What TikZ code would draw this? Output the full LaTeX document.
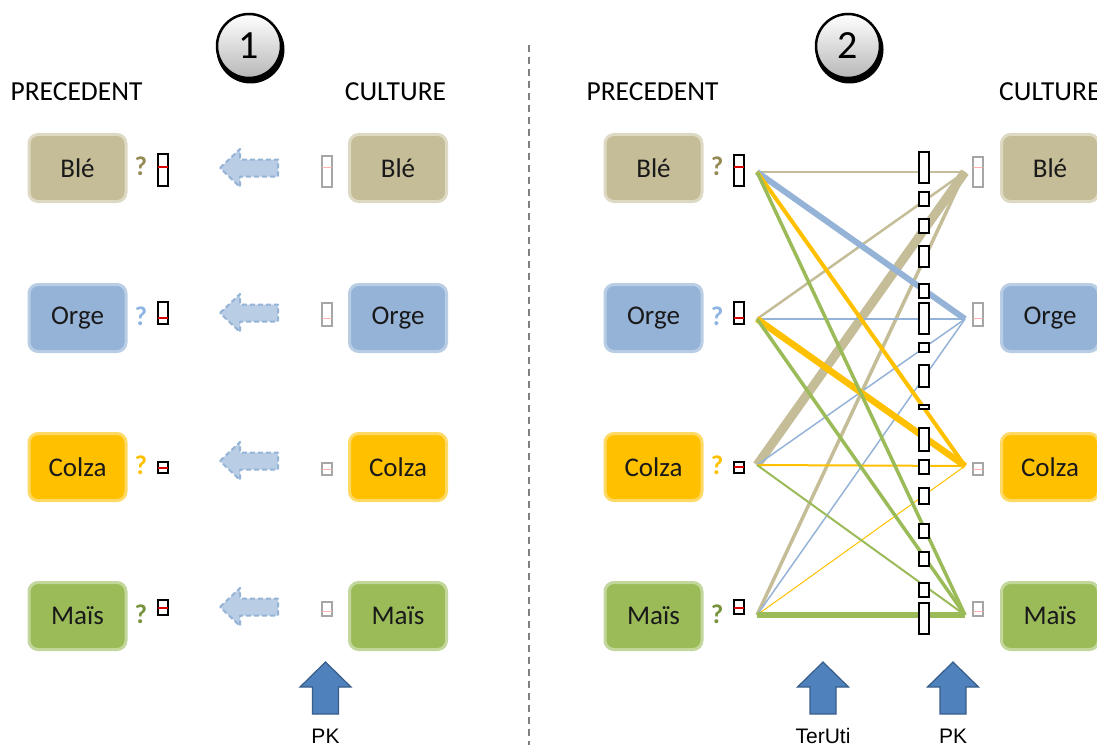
\documentclass[tikz,border=0pt]{standalone}
\usepackage{fontspec}
\setmainfont{Carlito}
\newfontfamily\arialf{Liberation Sans}
\definecolor{ble}{HTML}{C4BD97}\definecolor{bleb}{HTML}{DDD9C3}\definecolor{bleq}{HTML}{948A54}
\definecolor{orge}{HTML}{95B3D7}\definecolor{orgeb}{HTML}{B9CDE5}\definecolor{orgeq}{HTML}{8EB4E3}
\definecolor{colza}{HTML}{FFC000}\definecolor{colzab}{HTML}{FFD966}\definecolor{colzaq}{HTML}{FFC000}
\definecolor{mais}{HTML}{9BBB59}\definecolor{maisb}{HTML}{C3D69B}\definecolor{maisq}{HTML}{77933C}
\definecolor{upfill}{HTML}{4F81BD}\definecolor{upline}{HTML}{385D8A}
\definecolor{dashfill}{HTML}{B9CDE5}\definecolor{dashline}{HTML}{95B3D7}
\tikzset{
  cropbox/.style={rounded corners=9pt, line width=3pt, minimum width=97pt, minimum height=67pt,
    font=\fontsize{27}{30}\selectfont, inner sep=0pt, text=black!90},
  header/.style={font=\fontsize{27.5}{30}\selectfont, inner sep=0pt, text=black},
  qmark/.style={font=\bfseries\fontsize{27}{30}\selectfont, inner sep=0pt},
  blackbar/.style={draw=black, line width=1.6pt, fill=white},
  greybar/.style={draw=black!35, line width=1.6pt, fill=white},
  redtick/.style={draw=red!85!black, line width=1.2pt},
  pinktick/.style={draw=red!30, line width=1pt},
  leftarrow/.style={draw=dashline, fill=dashfill, line width=2pt, dash pattern=on 5pt off 3pt, line join=round},
  uparrow/.style={draw=upline, fill=upfill, line width=1.2pt},
  numcircle/.style={circle, draw=black, line width=2.5pt, minimum size=64pt, top color=white, bottom color=black!28,
    font=\fontsize{40}{44}\selectfont, inner sep=0pt},
  flow/.style={line cap=butt},
  arlabel/.style={font=\arialf\fontsize{21}{24}\selectfont, inner sep=0pt}
}
\begin{document}
\begin{tikzpicture}[x=1pt,y=-1pt]
\useasboundingbox (0,0) rectangle (1097,749);
% divider
\draw[black!50, line width=1.3pt, dash pattern=on 7pt off 5pt] (529,45) -- (529,745);
% numbered circles
\fill[black] (250.5,49.5) circle (34);
\node[numcircle] (n1) at (249,46) {1};
\fill[black] (849.5,49.5) circle (34);
\node[numcircle] (n2) at (848,46) {2};
% headers
\node[header] (h1) at (76.5,92) {PRECEDENT};
\node[header] (h2) at (395.5,92) {CULTURE};
\node[header] (h3) at (652.5,92) {PRECEDENT};
\node[header, anchor=west] (h4) at (999,92) {CULTURE};
% ---------- boxes, question marks, dashed arrows ----------
\foreach \nm/\lab/\y/\ay in {ble/Blé/168/168, orge/Orge/318/313, colza/Colza/467/461, mais/Maïs/616/607}{
  \node[cropbox, fill=\nm, draw=\nm b] (L\nm) at (77.5,\y) {\lab};
  \node[cropbox, fill=\nm, draw=\nm b] (R\nm) at (398,\y) {\lab};
  \node[cropbox, fill=\nm, draw=\nm b] (P\nm) at (653.5,\y) {\lab};
  \node[cropbox, fill=\nm, draw=\nm b] (C\nm) at (1050,\y) {\lab};
  \node[qmark, text=\nm q] (LQ\nm) at (141,\y-2) {?};
  \node[qmark, text=\nm q] (PQ\nm) at (717,\y-2) {?};
  \draw[leftarrow, shift={(0,\ay)}] (220,0) -- (240,-19) -- (240,-8.5) -- (278,-8.5) -- (278,8.5) -- (240,8.5) -- (240,19) -- cycle;
}
% small bars panel 1
\draw[blackbar] (158,154) rectangle (168,186); \draw[redtick] (158,167) -- (168,167);
\draw[blackbar] (158,302) rectangle (168,324); \draw[redtick] (158,318) -- (168,318);
\draw[blackbar] (158,462) rectangle (168,473); \draw[redtick] (158,468) -- (168,468);
\draw[blackbar] (158,600) rectangle (168,615); \draw[redtick] (158,608) -- (168,608);
\draw[greybar] (322,156) rectangle (332,187); \draw[pinktick] (322,167) -- (332,167);
\draw[greybar] (322,303) rectangle (332,326); \draw[pinktick] (322,318) -- (332,318);
\draw[greybar] (322,463) rectangle (332,475); \draw[pinktick] (322,469) -- (332,469);
\draw[greybar] (322,602) rectangle (332,616); \draw[pinktick] (322,611) -- (332,611);
% up arrows
\draw[uparrow, shift={(325.5,0)}] (0,662) -- (25.5,687) -- (13,687) -- (13,714) -- (-13,714) -- (-13,687) -- (-25.5,687) -- cycle;
\node[arlabel] (pk1) at (325.5,736) {PK};
\draw[uparrow, shift={(823,0)}] (0,662) -- (25.5,687) -- (13,687) -- (13,714) -- (-13,714) -- (-13,687) -- (-25.5,687) -- cycle;
\node[arlabel] (ter) at (823,736) {TerUti};
\draw[uparrow, shift={(953,0)}] (0,662) -- (25.5,687) -- (13,687) -- (13,714) -- (-13,714) -- (-13,687) -- (-25.5,687) -- cycle;
\node[arlabel] (pk2) at (953,736) {PK};
% ---------- panel 2 flows ----------
\coordinate (p1) at (757,172); \coordinate (p2) at (757,319); \coordinate (p3) at (757,465); \coordinate (p4) at (757,615);
\coordinate (c1) at (965,172); \coordinate (c2) at (965,319); \coordinate (c3) at (965,466); \coordinate (c4) at (965,615);
\draw[flow, ble, line width=1.8pt] (p1) -- (c1);
\draw[flow, ble, line width=2.5pt] (p2) -- (c1);
\draw[flow, ble, line width=9pt] (p3) -- (c1);
\draw[flow, ble, line width=3.5pt] (p4) -- (c1);
\draw[flow, orge, line width=6pt] (p1) -- (c2);
\draw[flow, orge, line width=2.5pt] (p2) -- (c2);
\draw[flow, orge, line width=1.5pt] (p3) -- (c2);
\draw[flow, orge, line width=1.5pt] (p4) -- (c2);
\draw[flow, colza, line width=4pt] (p1) -- (c3);
\draw[flow, colza, line width=6.5pt] (p2) -- (c3);
\draw[flow, colza, line width=2pt] (p3) -- (c3);
\draw[flow, colza, line width=1pt] (p4) -- (c3);
\draw[flow, mais, line width=3.5pt] (p1) -- (c4);
\draw[flow, mais, line width=3.5pt] (p2) -- (c4);
\draw[flow, mais, line width=2pt] (p3) -- (c4);
\draw[flow, mais, line width=5.5pt] (p4) -- (c4);
% panel 2 bars beside boxes
\draw[blackbar] (734,155) rectangle (744,186); \draw[redtick] (734,167) -- (744,167);
\draw[blackbar] (734,302) rectangle (744,324); \draw[redtick] (734,318) -- (744,318);
\draw[blackbar] (734,462) rectangle (744,473); \draw[redtick] (734,467) -- (744,467);
\draw[blackbar] (734,600) rectangle (744,614); \draw[redtick] (734,608) -- (744,608);
\draw[greybar] (973,157) rectangle (983,187); \draw[pinktick] (973,167) -- (983,167);
\draw[greybar] (973,303) rectangle (983,326); \draw[pinktick] (973,318) -- (983,318);
\draw[greybar] (973,463) rectangle (983,475); \draw[pinktick] (973,469) -- (983,469);
\draw[greybar] (973,602) rectangle (983,616); \draw[pinktick] (973,611) -- (983,611);
% middle column bars
\foreach \ya/\yb in {152/183,192/206,219/233,246/267,284/298,303/334,343/352,365/387,405/409,428/451,460/474,488/504,524/538,552/566,583/597,603/634}{
  \draw[blackbar] (919,\ya) rectangle (929,\yb);
}
\end{tikzpicture}
\end{document}
